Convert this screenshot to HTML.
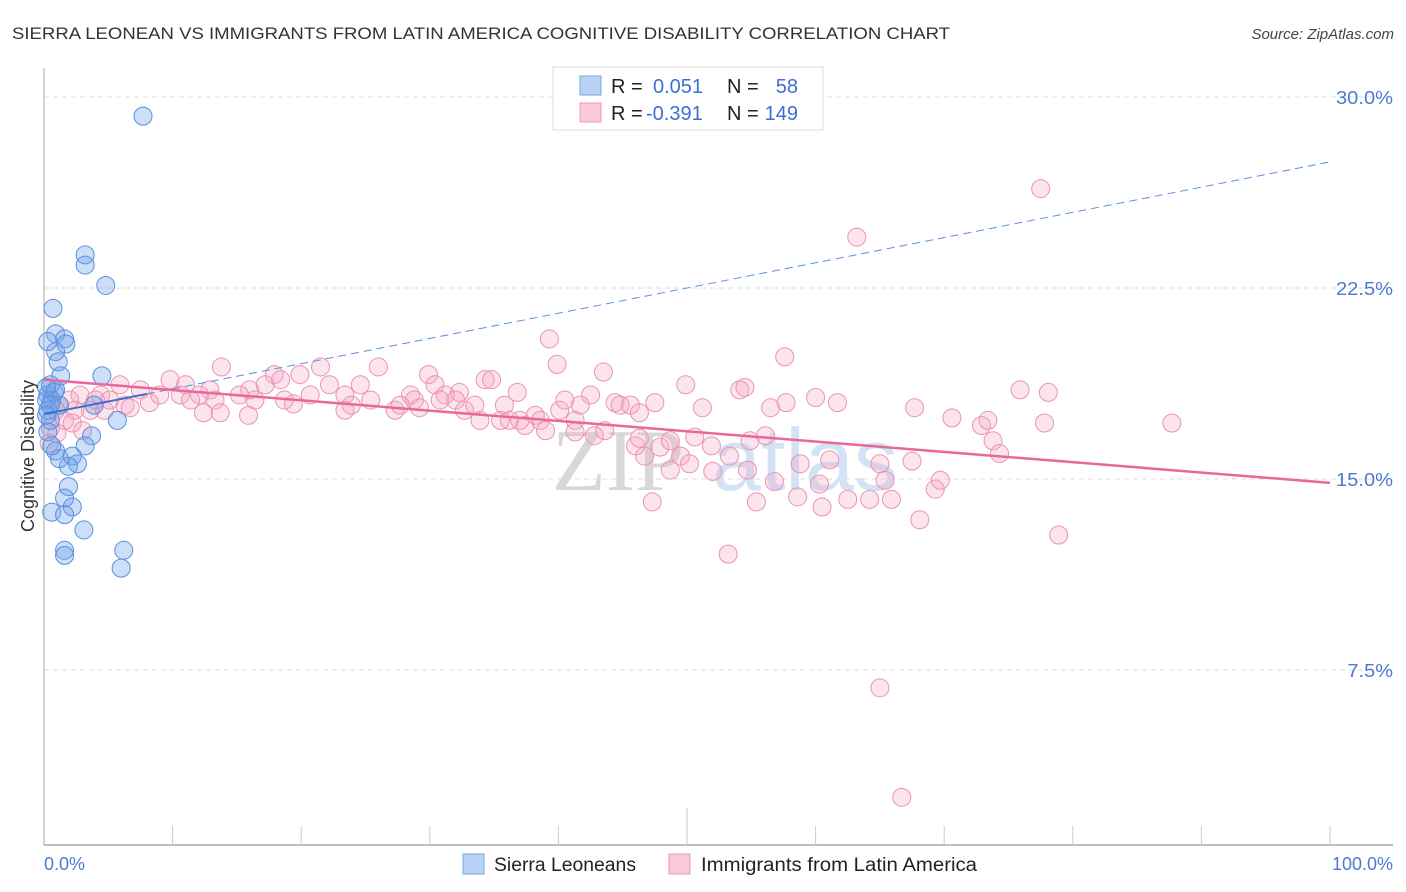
<!DOCTYPE html>
<html><head><meta charset="utf-8"><style>
body{margin:0;background:#fff;font-family:"Liberation Sans",sans-serif}
svg{display:block}
</style></head><body>
<svg id="chart" width="1406" height="892" xmlns="http://www.w3.org/2000/svg">
<text x="12" y="39" font-size="17" fill="#333" textLength="938" lengthAdjust="spacingAndGlyphs">SIERRA LEONEAN VS IMMIGRANTS FROM LATIN AMERICA COGNITIVE DISABILITY CORRELATION CHART</text>
<text x="1394" y="39" font-size="15" fill="#444" text-anchor="end" font-style="italic">Source: ZipAtlas.com</text>
<g>
<text x="552" y="490" font-family="Liberation Serif,serif" font-size="88" fill="#d8d8d8">ZIP</text>
<text x="712" y="490" font-size="88" fill="#d3e2f5">atlas</text>
</g>
<g id="grid"></g>
<g id="axes"></g>
<g id="marks"></g>
<g id="trends"></g>
<text x="34" y="456" font-size="18" fill="#333" text-anchor="middle" transform="rotate(-90 34 456)">Cognitive Disability</text>
<text x="44" y="870" font-size="18" fill="#4a7bd0">0.0%</text>
<text x="1393" y="870" font-size="18" fill="#4a7bd0" text-anchor="end">100.0%</text>
<g>
<rect x="553" y="67" width="270" height="63" fill="#fff" stroke="#ddd"/>
<rect x="580" y="76" width="21" height="19" fill="#b8d2f5" stroke="#7aa7e6"/>
<rect x="580" y="103" width="21" height="19" fill="#fac9d8" stroke="#ec9ab5"/>
<text x="611" y="93" font-size="20" fill="#222">R =</text>
<text x="653" y="93" font-size="20" fill="#3b6fd4">0.051</text>
<text x="727" y="93" font-size="20" fill="#222">N =</text>
<text x="798" y="93" font-size="20" fill="#3b6fd4" text-anchor="end">58</text>
<text x="611" y="120" font-size="20" fill="#222">R =</text>
<text x="646" y="120" font-size="20" fill="#3b6fd4">-0.391</text>
<text x="727" y="120" font-size="20" fill="#222">N =</text>
<text x="798" y="120" font-size="20" fill="#3b6fd4" text-anchor="end">149</text>
</g>
<g>
<rect x="463" y="854" width="21" height="20" fill="#b8d2f5" stroke="#7aa7e6"/>
<text x="494" y="871" font-size="19" fill="#222" textLength="142" lengthAdjust="spacingAndGlyphs">Sierra Leoneans</text>
<rect x="669" y="854" width="21" height="20" fill="#fac9d8" stroke="#ec9ab5"/>
<text x="701" y="871" font-size="19" fill="#222" textLength="276" lengthAdjust="spacingAndGlyphs">Immigrants from Latin America</text>
</g>
</svg>
<script>
const yTicks=[7.5,15,22.5,30];
const yTickLabels=["7.5%","15.0%","22.5%","30.0%"];
const blueX=[7.7,3.2,3.2,4.8,0.7,0.9,1.6,0.3,0.9,1.1,1.3,4.5,0.5,0.9,0.3,0.6,1.2,3.9,5.7,0.5,0.3,3.7,3.2,0.9,1.2,2.2,2.6,1.9,1.9,1.6,2.2,0.6,1.6,3.1,1.6,6.2,1.6,6.0,0.3,0.2,0.8,0.2,1.7,0.5,0.2,0.6];
const blueY=[29.25,23.8,23.4,22.6,21.7,20.7,20.5,20.4,20.0,19.6,19.05,19.05,18.7,18.5,18.3,18.1,17.9,17.9,17.3,17.3,16.85,16.7,16.3,16.1,15.8,15.9,15.6,15.5,14.7,14.25,13.9,13.7,13.6,13.0,12.2,12.2,12.0,11.5,17.7,18.1,18.4,18.6,20.3,17.9,17.5,16.3];
const pinkX=[77.5,63.2,39.3,57.6,39.9,13.8,21.5,26.0,43.5,29.9,17.9,19.9,34.3,34.8,9.8,11.0,49.9,54.1,54.5,75.9,78.1,36.8,32.3,30.4,31.2,28.5,24.6,22.2,16.0,15.2,12.9,7.5,5.9,4.4,2.8,2.0,1.2,0.9,1.6,3.6,4.7,6.3,8.2,9.0,12.1,13.3,16.4,18.7,19.4,20.7,23.4,25.4,27.3,28.8,30.8,32.7,33.5,35.8,37.0,38.2,38.6,40.1,41.3,41.7,42.5,44.4,44.8,45.6,40.5,33.9,35.5,36.2,37.4,39.0,41.3,42.8,43.6,46.0,46.3,47.9,48.7,49.5,50.6,51.2,51.9,54.9,56.1,56.5,57.7,60.0,61.7,61.1,58.8,56.8,60.3,58.6,60.5,62.5,64.2,65.0,65.4,65.9,67.5,67.7,68.1,69.3,69.7,70.6,72.9,73.4,73.8,74.3,77.8,87.7,78.9,65.0,66.7,53.2,55.4,47.3,48.7,50.2,52.0,53.3,54.7,46.7,13.7,15.9,12.4,6.7,5.1,2.4,4.0,10.6,11.4,17.2,18.4,23.4,23.9,27.7,29.2,32.0,46.3,47.5,0.5,1.0,2.2,3.0,0.4];
const pinkY=[26.4,24.5,20.5,19.8,19.5,19.4,19.4,19.4,19.2,19.1,19.1,19.1,18.9,18.9,18.9,18.7,18.7,18.5,18.6,18.5,18.4,18.4,18.4,18.7,18.3,18.3,18.7,18.7,18.5,18.3,18.5,18.5,18.7,18.3,18.3,18.1,17.9,17.7,17.3,17.7,17.7,17.9,18.0,18.3,18.3,18.1,18.1,18.1,17.95,18.3,17.7,18.1,17.7,18.1,18.1,17.7,17.9,17.9,17.3,17.5,17.3,17.7,17.3,17.9,18.3,18.0,17.9,17.9,18.1,17.3,17.3,17.3,17.1,16.9,16.85,16.7,16.9,16.3,16.6,16.25,16.5,15.9,16.65,17.8,16.3,16.5,16.7,17.8,18.0,18.2,18.0,15.75,15.6,14.9,14.8,14.3,13.9,14.2,14.2,15.6,14.95,14.2,15.7,17.8,13.4,14.6,14.95,17.4,17.1,17.3,16.5,16.0,17.2,17.2,12.8,6.8,2.5,12.05,14.1,14.1,15.35,15.6,15.3,15.9,15.35,15.9,17.6,17.5,17.6,17.8,18.1,17.7,18.1,18.3,18.1,18.7,18.9,18.3,17.9,17.9,17.8,18.1,17.6,18.0,17.0,16.8,17.2,16.9,16.4];
const blueTrend=[17.55,27.45];
const pinkTrend=[18.9,14.85];
const NS="http://www.w3.org/2000/svg";
const X0=44,X1=1330;
const xs=v=>X0+(X1-X0)*v/100;
const ys=v=>97+(30-v)*191/7.5;
function mk(t,a,p){const e=document.createElementNS(NS,t);for(const k in a)e.setAttribute(k,a[k]);p.appendChild(e);return e;}
const grid=document.getElementById('grid'),axes=document.getElementById('axes'),marks=document.getElementById('marks'),trends=document.getElementById('trends');
yTicks.forEach((t,i)=>{
 const l=mk('line',{x1:X0,x2:1393,y1:ys(t),y2:ys(t),stroke:'#dcdcdc','stroke-dasharray':'5,4'},grid);
 
 
 const tx=mk('text',{x:1393,y:ys(t)+7,'font-size':18,fill:'#4a7bd0','text-anchor':'end',textLength:yTickLabels[i].length*11.4,lengthAdjust:'spacingAndGlyphs'},axes);
 tx.textContent=yTickLabels[i];
 
 
});
const ya=mk('line',{x1:X0,x2:X0,y1:68,y2:845,stroke:'#aaa'},axes);


const xa=mk('line',{x1:X0,x2:1393,y1:845,y2:845,stroke:'#aaa','stroke-width':1.5},axes);


for(let i=1;i<=10;i++){
 const tk=mk('line',{x1:xs(i*10),x2:xs(i*10),y1:i==5?808:826,y2:845,stroke:'#ccc'},axes);
 
 
}
pinkX.forEach((x,i)=>{
 const c=mk('circle',{cx:xs(x),cy:ys(pinkY[i]),r:9,fill:'rgba(244,165,195,0.3)',stroke:'#eb93b2','stroke-width':1},marks);
 
 
});
blueX.forEach((x,i)=>{
 const c=mk('circle',{cx:xs(x),cy:ys(blueY[i]),r:9,fill:'rgba(110,160,235,0.35)',stroke:'#5b8fdf','stroke-width':1},marks);
 
 
});
const bAt=v=>blueTrend[0]+(blueTrend[1]-blueTrend[0])*v/100;
const bs=mk('line',{x1:xs(0),y1:ys(bAt(0)),x2:xs(8),y2:ys(bAt(8)),stroke:'#3d6fc9','stroke-width':2},trends);


const bd=mk('line',{x1:xs(8),y1:ys(bAt(8)),x2:xs(100),y2:ys(bAt(100)),stroke:'#5b8fdf','stroke-width':1,'stroke-dasharray':'8,5'},trends);


const pl=mk('line',{x1:xs(0),y1:ys(pinkTrend[0]),x2:xs(100),y2:ys(pinkTrend[1]),stroke:'#e8689a','stroke-width':2.5},trends);


</script>
</body></html>
